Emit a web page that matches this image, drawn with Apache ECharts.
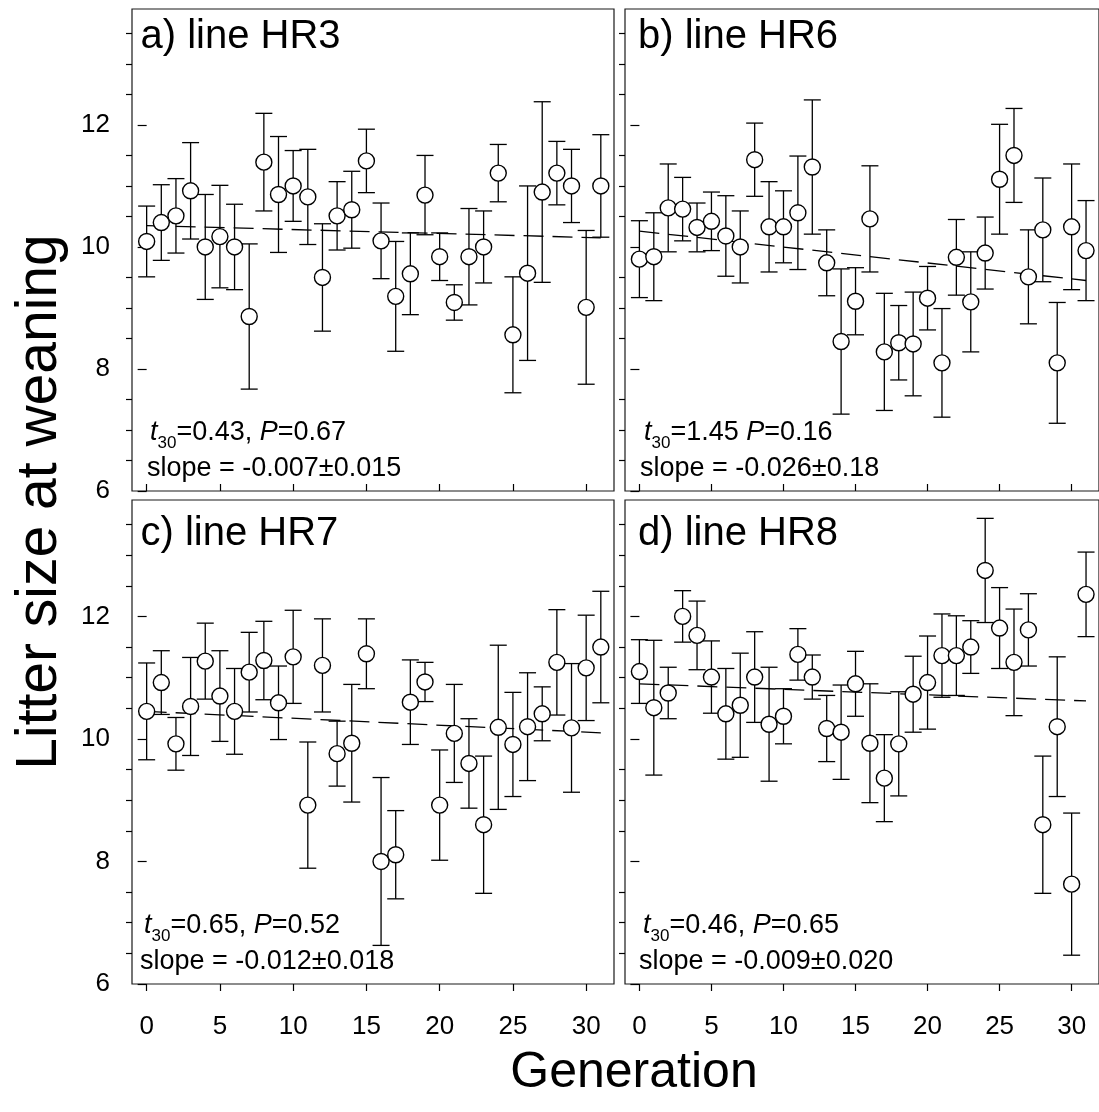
<!DOCTYPE html>
<html>
<head>
<meta charset="utf-8">
<script src="https://cdn.jsdelivr.net/npm/echarts@6/dist/echarts.min.js"></script>
<style>
html,body{margin:0;padding:0;background:#fff;}
#chart{width:1099px;height:1112px;}
</style>
</head>
<body>
<div id="chart"></div>
<script>
// ---------- DATA ----------
const generations = [0,1,2,3,4,5,6,7,8,9,10,11,12,13,14,15,16,17,18,19,20,21,22,23,24,25,26,27,28,29,30,31];

const hr3Mean = [10.09,10.40,10.51,10.92,10.00,10.17,10.00,8.86,11.39,10.86,11.00,10.82,9.50,10.51,10.61,11.41,10.10,9.19,9.56,10.85,9.84,9.09,9.84,10.00,11.21,8.56,9.57,10.90,11.21,11.00,9.01,11.00];
const hr3Err  = [0.58,0.62,0.61,0.79,0.86,0.84,0.70,1.19,0.80,0.95,0.58,0.78,0.88,0.56,0.63,0.52,0.62,0.90,0.67,0.65,0.39,0.29,0.79,0.59,0.47,0.95,1.43,1.48,0.52,0.60,1.26,0.84];

const hr6Mean = [9.80,9.84,10.64,10.62,10.32,10.42,10.18,10.00,11.43,10.33,10.33,10.56,11.31,9.74,8.45,9.11,10.46,8.28,8.43,8.41,9.16,8.10,9.83,9.10,9.90,11.11,11.50,9.51,10.28,8.10,10.33,9.94];
const hr6Err  = [0.63,0.72,0.72,0.52,0.40,0.48,0.66,0.59,0.60,0.74,0.59,0.93,1.10,0.54,1.19,0.55,0.87,0.96,0.61,0.85,0.52,0.89,0.62,0.82,0.59,0.90,0.77,0.77,0.85,0.99,1.03,0.82];

const hr7Mean = [10.45,10.92,9.92,10.53,11.27,10.70,10.45,11.09,11.28,10.59,11.34,8.92,11.20,9.76,9.93,11.39,8.00,8.11,10.60,10.93,8.92,10.09,9.60,8.60,10.19,9.91,10.20,10.41,11.25,10.18,11.16,11.50];
const hr7Err  = [0.79,0.52,0.43,0.80,0.62,0.74,0.70,0.65,0.64,0.60,0.76,1.03,0.76,0.53,0.96,0.57,1.37,0.72,0.69,0.32,0.90,0.80,0.73,1.12,1.34,0.85,0.88,0.44,0.86,1.05,0.86,0.91];

const hr8Mean = [11.10,10.51,10.75,12.00,11.69,11.01,10.41,10.55,11.01,10.24,10.37,11.38,11.01,10.17,10.11,10.90,9.93,9.36,9.92,10.73,10.92,11.36,11.36,11.50,12.75,11.81,11.25,11.78,8.60,10.20,7.63,12.36];
const hr8Err  = [0.52,1.10,0.42,0.42,0.56,0.59,0.74,0.85,0.74,0.93,0.45,0.42,0.36,0.54,0.77,0.53,0.97,0.71,0.85,0.62,0.76,0.68,0.65,0.43,0.85,0.66,0.87,0.59,1.12,1.14,1.16,0.69];

// regression lines (value at first and last generation)
const trendGens = [0, 31];
const hr3Trend = [10.35, 10.15];
const hr6Trend = [10.26, 9.45];
const hr7Trend = [10.45, 10.10];
const hr8Trend = [10.90, 10.62];

const panelTitles = ['a) line HR3', 'b) line HR6', 'c) line HR7', 'd) line HR8'];
const tValues = ['0.43', '1.45', '0.65', '0.46'];
const tSeparators = [', ', ' ', ', ', ', '];
const pValues = ['0.67', '0.16', '0.52', '0.65'];
const slopeTexts = ['slope = -0.007±0.015', 'slope = -0.026±0.18', 'slope = -0.012±0.018', 'slope = -0.009±0.020'];

const xTickValues = [0, 5, 10, 15, 20, 25, 30];
const yMajorTicks = [6, 8, 10, 12];
const yMinorTicks = [6.5, 7, 7.5, 8.5, 9, 9.5, 10.5, 11, 11.5, 12.5, 13, 13.5];

const xAxisTitle = 'Generation';
const yAxisTitle = 'Litter size at weaning';

// ---------- LAYOUT ----------
const FONT = '"Liberation Sans", Arial, Helvetica, sans-serif';
const panels = [
  {left: 132, top: 9,   width: 482, height: 482, bottomRow: false, leftCol: true,  mean: hr3Mean, err: hr3Err, trend: hr3Trend, tx: 150, sx: 147},
  {left: 625, top: 9,   width: 480, height: 482, bottomRow: false, leftCol: false, mean: hr6Mean, err: hr6Err, trend: hr6Trend, tx: 644, sx: 640},
  {left: 132, top: 500, width: 482, height: 484, bottomRow: true,  leftCol: true,  mean: hr7Mean, err: hr7Err, trend: hr7Trend, tx: 144, sx: 140},
  {left: 625, top: 500, width: 480, height: 484, bottomRow: true,  leftCol: false, mean: hr8Mean, err: hr8Err, trend: hr8Trend, tx: 643, sx: 639}
];

const grids = [], xAxes = [], yAxes = [], series = [], graphics = [];

panels.forEach((p, i) => {
  grids.push({
    left: p.left, top: p.top, width: p.width, height: p.height,
    show: true, borderColor: '#1a1a1a', borderWidth: 1.2, backgroundColor: 'transparent',
    containLabel: false
  });
  xAxes.push({
    gridIndex: i, type: 'value', min: -1, max: 31.9,
    axisLine: {show: false}, splitLine: {show: false},
    axisTick: {show: true, inside: !p.bottomRow, length: 7, customValues: xTickValues,
               lineStyle: {color: '#000', width: 1.2}},
    axisLabel: {show: p.bottomRow, customValues: xTickValues, fontSize: 26, color: '#000',
                fontFamily: FONT, margin: 30}
  });
  yAxes.push({
    gridIndex: i, type: 'value', min: 6, max: 13.9, position: 'left',
    axisLine: {show: false}, splitLine: {show: false},
    axisTick: {show: true, length: 9, customValues: yMajorTicks, lineStyle: {color: '#000', width: 1.2}},
    axisLabel: {show: p.leftCol, customValues: yMajorTicks, fontSize: 26, color: '#000',
                fontFamily: FONT, margin: 22}
  });
  yAxes.push({
    gridIndex: i, type: 'value', min: 6, max: 13.9, position: 'left',
    axisLine: {show: false}, splitLine: {show: false},
    axisTick: {show: true, length: 6, customValues: yMinorTicks, lineStyle: {color: '#000', width: 1.2}},
    axisLabel: {show: false}
  });

  // dashed regression line
  series.push({
    type: 'line', xAxisIndex: i, yAxisIndex: 2 * i, z: 1,
    data: trendGens.map((g, k) => [g, p.trend[k]]),
    symbol: 'none', silent: true,
    lineStyle: {color: '#000', width: 1.3, type: [20, 9]}
  });
  // error bars
  series.push({
    type: 'custom', xAxisIndex: i, yAxisIndex: 2 * i, z: 2,
    data: generations.map((g, k) => [g, p.mean[k] - p.err[k], p.mean[k] + p.err[k]]),
    encode: {x: 0, y: [1, 2]},
    renderItem: function (params, api) {
      const x = api.value(0);
      const lo = api.coord([x, api.value(1)]);
      const hi = api.coord([x, api.value(2)]);
      const w = 8.5;
      const st = {stroke: '#000', lineWidth: 1.3};
      return {type: 'group', children: [
        {type: 'line', shape: {x1: lo[0], y1: lo[1], x2: hi[0], y2: hi[1]}, style: st},
        {type: 'line', shape: {x1: hi[0] - w, y1: hi[1], x2: hi[0] + w, y2: hi[1]}, style: st},
        {type: 'line', shape: {x1: lo[0] - w, y1: lo[1], x2: lo[0] + w, y2: lo[1]}, style: st}
      ]};
    }
  });
  // means
  series.push({
    type: 'scatter', xAxisIndex: i, yAxisIndex: 2 * i, z: 3,
    data: generations.map((g, k) => [g, p.mean[k]]),
    symbol: 'circle', symbolSize: 16,
    itemStyle: {color: '#fff', borderColor: '#000', borderWidth: 1.4, opacity: 1}
  });

  // panel title
  graphics.push({
    type: 'text', x: p.left + (p.leftCol ? 8.5 : 13), y: p.top + (p.bottomRow ? 34 : 28),
    style: {text: panelTitles[i], fontSize: 40, fontFamily: FONT, fill: '#000',
            align: 'left', verticalAlign: 'middle'}
  });
  // statistics text
  graphics.push({
    type: 'text', x: p.tx, y: p.top + p.height - 72,
    style: {
      text: '{i|t}{s|30}{n|=' + tValues[i] + tSeparators[i] + '}{i|P}{n|=' + pValues[i] + '}',
      align: 'left', verticalAlign: 'top',
      rich: {
        n: {fontSize: 27, fontFamily: FONT, fill: '#000', lineHeight: 27, verticalAlign: 'top'},
        i: {fontSize: 27, fontFamily: FONT, fontStyle: 'italic', fill: '#000', lineHeight: 27, verticalAlign: 'top'},
        s: {fontSize: 17, fontFamily: FONT, fill: '#000', lineHeight: 17, padding: [16, 0, 0, 0], verticalAlign: 'top'}
      }
    }
  });
  graphics.push({
    type: 'text', x: p.sx, y: p.top + p.height - 22,
    style: {text: slopeTexts[i], fontSize: 27, fontFamily: FONT, fill: '#000',
            align: 'left', verticalAlign: 'middle'}
  });
});

graphics.push({
  type: 'text', x: 40, y: 502, rotation: Math.PI / 2,
  style: {text: yAxisTitle, fontSize: 57, fontFamily: FONT, fill: '#000', align: 'center', verticalAlign: 'middle'}
});
graphics.push({
  type: 'text', x: 634, y: 1073,
  style: {text: xAxisTitle, fontSize: 50, fontFamily: FONT, fill: '#000', align: 'center', verticalAlign: 'middle'}
});

const chart = echarts.init(document.getElementById('chart'), null, {renderer: 'canvas'});
chart.setOption({
  backgroundColor: '#fff',
  animation: false,
  grid: grids,
  xAxis: xAxes,
  yAxis: yAxes,
  series: series,
  graphic: graphics
});
</script>
</body>
</html>
